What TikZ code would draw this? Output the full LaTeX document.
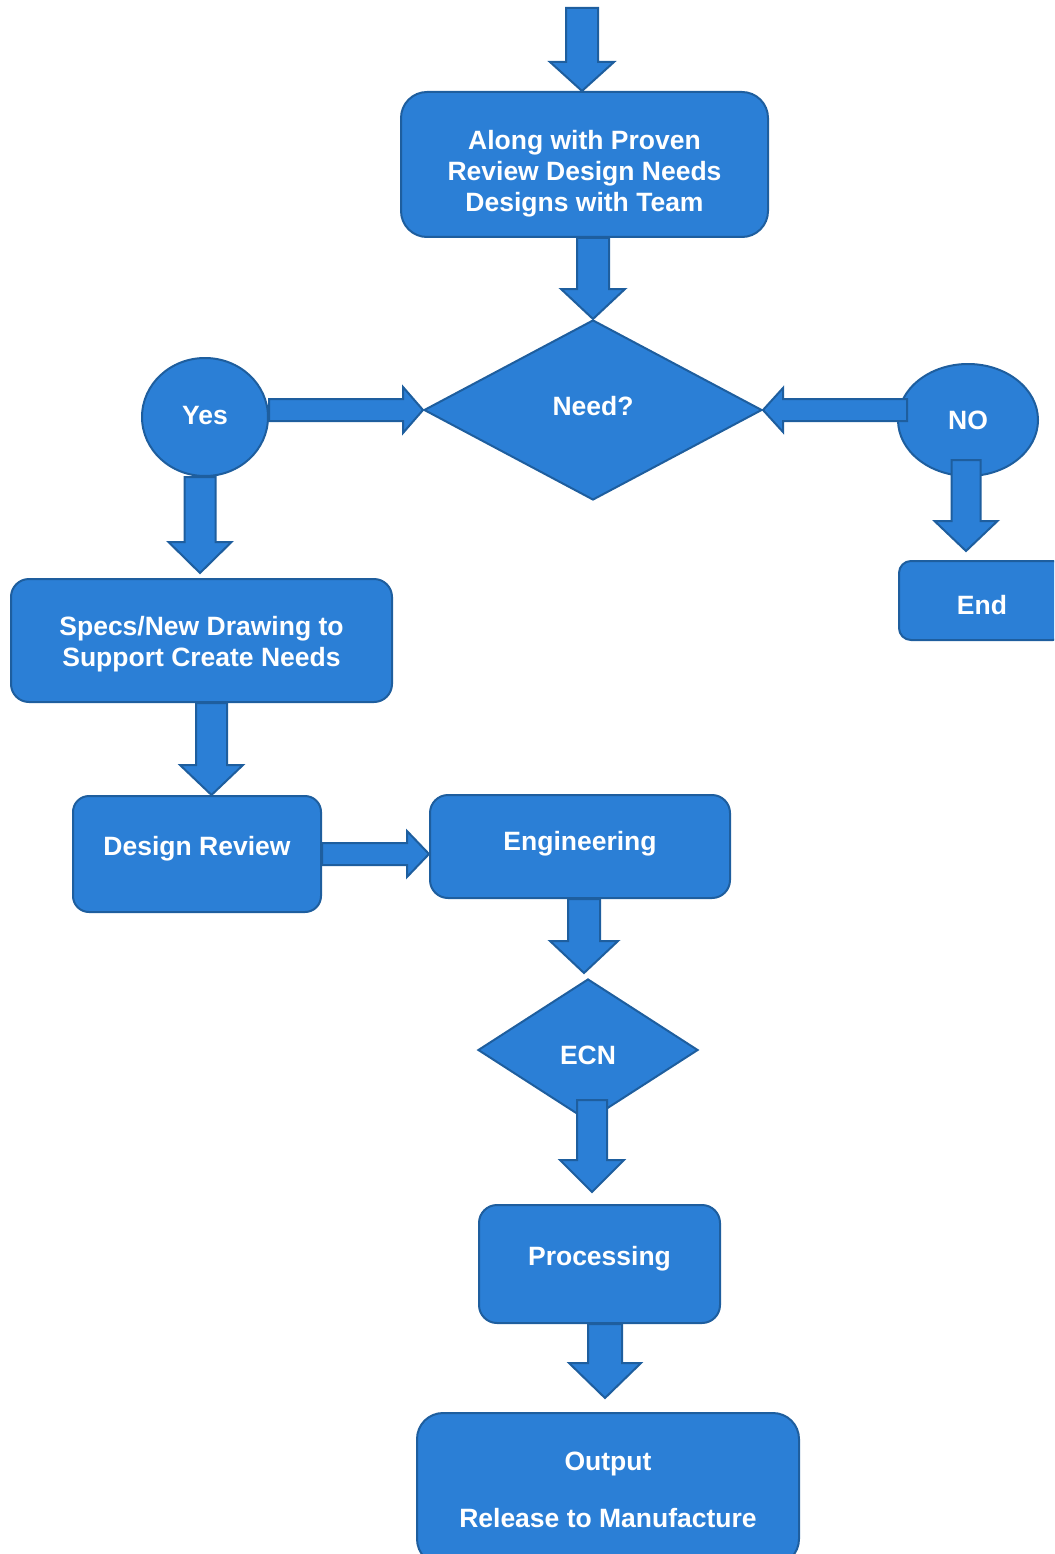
\documentclass[tikz,border=0pt]{standalone}
\usepackage{fontspec}
\setmainfont{Liberation Sans}
\usetikzlibrary{shapes.geometric,calc}

\definecolor{boxfill}{HTML}{2B7FD6}
\definecolor{boxline}{HTML}{1E5E9E}

% centred lines of text whose baseline is the first line
\newcommand\txtlines[1]{\begin{tabular}[t]{@{}c@{}}#1\end{tabular}}

% vertical block arrow: start, tip, shaft half width, head half width, head length
\newcommand\vblk[5]{\draw[blk] let \p1=(#1), \p2=(#2) in
  (\x2-#3pt,\y1) -- (\x2-#3pt,\y2+#5pt) -- (\x2-#4pt,\y2+#5pt) -- (\x2,\y2)
  -- (\x2+#4pt,\y2+#5pt) -- (\x2+#3pt,\y2+#5pt) -- (\x2+#3pt,\y1) -- cycle;}
% block arrow pointing right
\newcommand\rblk[5]{\draw[blk] let \p1=(#1), \p2=(#2) in
  (\x1,\y2-#3pt) -- (\x2-#5pt,\y2-#3pt) -- (\x2-#5pt,\y2-#4pt) -- (\x2,\y2)
  -- (\x2-#5pt,\y2+#4pt) -- (\x2-#5pt,\y2+#3pt) -- (\x1,\y2+#3pt) -- cycle;}
% block arrow pointing left
\newcommand\lblk[5]{\draw[blk] let \p1=(#1), \p2=(#2) in
  (\x1,\y2-#3pt) -- (\x2+#5pt,\y2-#3pt) -- (\x2+#5pt,\y2-#4pt) -- (\x2,\y2)
  -- (\x2+#5pt,\y2+#4pt) -- (\x2+#5pt,\y2+#3pt) -- (\x1,\y2+#3pt) -- cycle;}

\begin{document}
\begin{tikzpicture}[x=1pt,y=-1pt,
  shape base/.style={fill=boxfill,draw=boxline,line width=2pt,text=white,
    font=\fontsize{26.5}{31}\selectfont\bfseries,inner sep=0pt},
  procbox/.style={shape base,rectangle,rounded corners=#1},
  procbox/.default=18pt,
  decision/.style={shape base,diamond},
  answer/.style={shape base,ellipse},
  blk/.style={fill=boxfill,draw=boxline,line width=2pt,line join=miter}]

\useasboundingbox (0,0) rectangle (1054,1554);
\clip (0,0) rectangle (1054,1554);

% process boxes and decisions
\node[procbox=26pt,minimum width=367pt,minimum height=145pt,text height=0pt,text depth=29pt]
  (review) at (584.5,164.5)
  {\txtlines{Along with Proven\\Review Design Needs\\Designs with Team}};
\node[decision,minimum width=338pt,minimum height=180pt,text height=10pt,text depth=0pt]
  (need) at (593,410) {Need?};
\node[answer,minimum width=126pt,minimum height=118pt,text height=14pt,text depth=0pt]
  (yes) at (205,417) {Yes};
\node[answer,minimum width=140pt,minimum height=112pt,text height=18pt,text depth=0pt]
  (no) at (968,420) {NO};
\node[procbox=12pt,minimum width=166pt,minimum height=79pt,text height=27pt,text depth=0pt]
  (end) at (982,600.5) {End};
\node[procbox,minimum width=381pt,minimum height=123pt,text height=0pt,text depth=11pt]
  (specs) at (201.5,640.5)
  {\txtlines{Specs/New Drawing to\\Support Create Needs}};
\node[procbox=16pt,minimum width=248pt,minimum height=116pt,text height=2pt,text depth=0pt]
  (dr) at (197,854) {Design Review};
\node[procbox,minimum width=300pt,minimum height=103pt,text height=7pt,text depth=0pt]
  (eng) at (580,846.5) {Engineering};
\node[decision,minimum width=220pt,minimum height=142pt,text height=28pt,text depth=0pt]
  (ecn) at (588,1050) {ECN};
\node[procbox,minimum width=241pt,minimum height=118pt,text height=2pt,text depth=0pt]
  (proc) at (599.5,1264) {Processing};
\node[procbox=26pt,minimum width=382pt,minimum height=152pt,text height=0pt,text depth=38pt]
  (out) at (608,1489)
  {\txtlines{Output\\[26pt]Release to Manufacture}};

% connectors
\coordinate (in) at (582,8);
\vblk{in}{in |- review.north}{16}{32}{29}
\vblk{need.north |- review.south}{need.north}{16}{32}{30}
\rblk{yes.east |- need.west}{need.west}{11}{23}{20}
\lblk{$(no.west)+(10,0)$}{need.east}{11}{22}{20}
\vblk{$(yes.south)+(-5,0)$}{$(yes.south |- specs.north)+(-5,-5)$}{15.5}{31.5}{31}
\vblk{$(no.south)+(-2,-17)$}{$(no.south |- end.north)+(-2,-9)$}{14.5}{31.5}{30}
\vblk{$(specs.south)+(10,0)$}{$(specs.south |- dr.north)+(10,0)$}{15.5}{31.5}{30}
\rblk{dr.east}{eng.west |- dr.east}{11}{23}{22}
\vblk{$(ecn.north |- eng.south)+(-4,0)$}{$(ecn.north)+(-4,-5)$}{16}{34}{32}
\vblk{$(ecn.south)+(4,-22)$}{$(ecn.south |- proc.north)+(4,-12)$}{15}{32}{32}
\vblk{$(proc.south)+(5.5,0)$}{$(proc.south |- out.north)+(5.5,-14)$}{17}{36}{35}

\end{tikzpicture}
\end{document}
